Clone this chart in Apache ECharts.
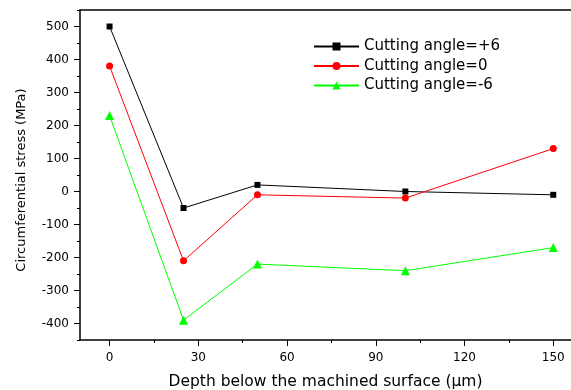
<!DOCTYPE html>
<html>
<head>
<meta charset="utf-8">
<script src="https://cdn.jsdelivr.net/npm/echarts@6/dist/echarts.min.js"></script>
<style>
  html, body { margin: 0; padding: 0; background: #fff; }
  #chart { width: 571px; height: 390px; }
</style>
</head>
<body>
<div id="chart"></div>
<script>
// depth below surface (um)
var depth = [0, 25, 50, 100, 150]
var anglePlus6 = [500, -50, 20, 0, -10]
var angleZero = [380, -210, -10, -20, 130]
var angleMinus6 = [230, -390, -220, -240, -170]

var xMajor = [0, 30, 60, 90, 120, 150]
var xMinor = [15, 45, 75, 105, 135]
var yMajor = [-400, -300, -200, -100, 0, 100, 200, 300, 400, 500]
var yMinor = [-450, -350, -250, -150, -50, 50, 150, 250, 350, 450, 550]

var font = 'DejaVu Sans, Arial, sans-serif'
var chart = echarts.init(document.getElementById('chart'))

function pairs(ys) {
  return depth.map(function (d, i) { return [d, ys[i]] })
}

var lineAxis = { show: true, onZero: false, lineStyle: { color: '#000', width: 1.5 } }

chart.setOption({
  animation: false,
  grid: { left: 80, top: 10, right: 0, bottom: 50, containLabel: false, outerBoundsMode: 'none' },
  legend: {
    orient: 'vertical',
    left: 308,
    top: 34,
    itemWidth: 45,
    itemHeight: 10,
    itemGap: 4.5,
    textStyle: { fontFamily: font, fontSize: 15, color: '#000' },
    data: ['Cutting angle=+6', 'Cutting angle=0', 'Cutting angle=-6']
  },
  xAxis: [{
    type: 'value',
    position: 'bottom',
    min: -10,
    max: 156,
    name: 'Depth below the machined surface (\u03bcm)',
    nameLocation: 'middle',
    nameGap: 34,
    nameTextStyle: { fontFamily: font, fontSize: 15.5, color: '#000' },
    axisLine: lineAxis,
    axisTick: { show: true, customValues: xMajor, length: 6, lineStyle: { color: '#000' } },
    axisLabel: { customValues: xMajor, margin: 12, fontFamily: font, fontSize: 12, color: '#000' },
    splitLine: { show: false }
  }, {
    type: 'value',
    position: 'bottom',
    offset: 0,
    min: -10,
    max: 156,
    axisLine: { show: false, onZero: false },
    axisTick: { show: true, customValues: xMinor, length: 3, lineStyle: { color: '#000' } },
    axisLabel: { show: false },
    splitLine: { show: false }
  }, {
    type: 'value',
    position: 'top',
    min: -10,
    max: 156,
    axisLine: lineAxis,
    axisTick: { show: false },
    axisLabel: { show: false },
    splitLine: { show: false }
  }],
  yAxis: [{
    type: 'value',
    position: 'left',
    min: -450,
    max: 550,
    name: 'Circumferential stress (MPa)',
    nameLocation: 'middle',
    nameGap: 52,
    nameTextStyle: { fontFamily: font, fontSize: 13, color: '#000', padding: [0, 10, 0, 0] },
    axisLine: lineAxis,
    axisTick: { show: true, customValues: yMajor, length: 6, lineStyle: { color: '#000' } },
    axisLabel: { customValues: yMajor, margin: 11, fontFamily: font, fontSize: 12, color: '#000' },
    splitLine: { show: false }
  }, {
    type: 'value',
    position: 'left',
    offset: 0,
    min: -450,
    max: 550,
    axisLine: { show: false, onZero: false },
    axisTick: { show: true, customValues: yMinor, length: 3, lineStyle: { color: '#000' } },
    axisLabel: { show: false },
    splitLine: { show: false }
  }],
  series: [{
    name: 'Cutting angle=+6',
    type: 'line',
    data: pairs(anglePlus6),
    symbol: 'rect',
    symbolSize: 6,
    itemStyle: { color: '#000' },
    lineStyle: { color: '#000', width: 1 }
  }, {
    name: 'Cutting angle=0',
    type: 'line',
    data: pairs(angleZero),
    symbol: 'circle',
    symbolSize: 7,
    itemStyle: { color: '#ff0000' },
    lineStyle: { color: '#ff0000', width: 1 }
  }, {
    name: 'Cutting angle=-6',
    type: 'line',
    data: pairs(angleMinus6),
    symbol: 'triangle',
    symbolSize: 9,
    itemStyle: { color: '#00ff00' },
    lineStyle: { color: '#00ff00', width: 1 }
  }]
})
</script>
</body>
</html>
